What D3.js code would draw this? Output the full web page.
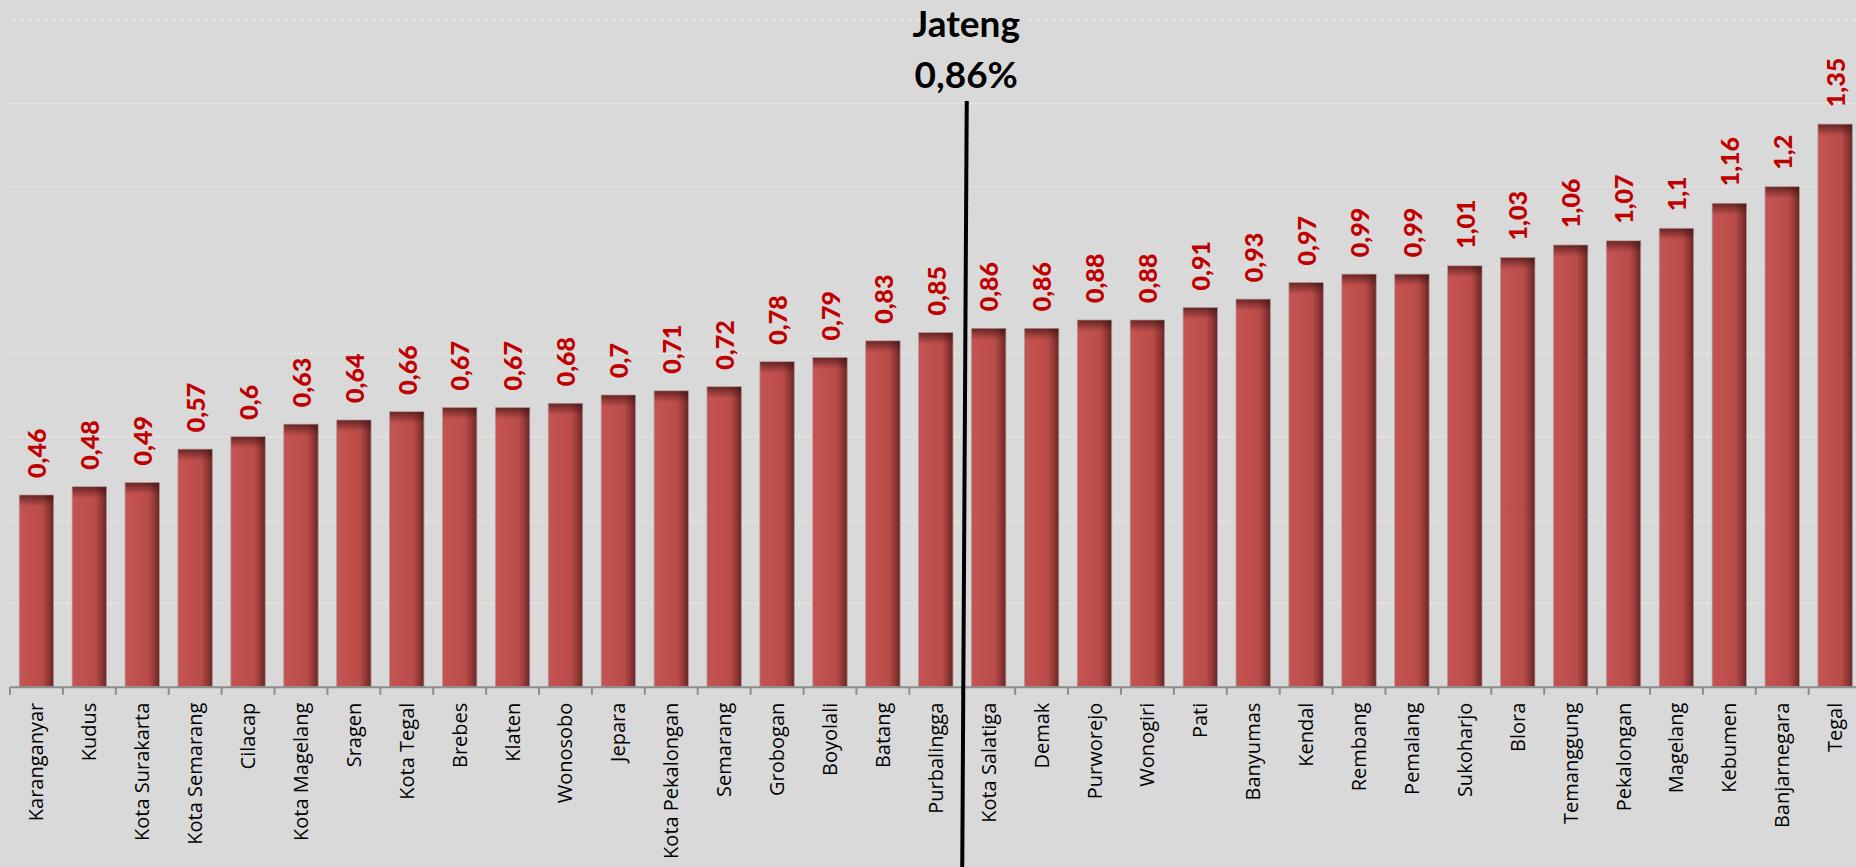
<!DOCTYPE html>
<html>
<head>
    <meta charset="utf-8">
    <title>Jateng 0,86%</title>
    <script src="https://d3js.org/d3.v7.min.js"></script>
    <style>
        body { margin: 0; background: #d9d9d9; overflow: hidden; }
    </style>
</head>
<body>
    <script>

        var regions = ["Karanganyar", "Kudus", "Kota Surakarta", "Kota Semarang", "Cilacap", "Kota Magelang",
            "Sragen", "Kota Tegal", "Brebes", "Klaten", "Wonosobo", "Jepara", "Kota Pekalongan", "Semarang",
            "Grobogan", "Boyolali", "Batang", "Purbalingga", "Kota Salatiga", "Demak", "Purworejo", "Wonogiri",
            "Pati", "Banyumas", "Kendal", "Rembang", "Pemalang", "Sukoharjo", "Blora", "Temanggung",
            "Pekalongan", "Magelang", "Kebumen", "Banjarnegara", "Tegal"];
        var values = [0.46, 0.48, 0.49, 0.57, 0.6, 0.63, 0.64, 0.66, 0.67, 0.67, 0.68, 0.7, 0.71, 0.72,
            0.78, 0.79, 0.83, 0.85, 0.86, 0.86, 0.88, 0.88, 0.91, 0.93, 0.97, 0.99, 0.99, 1.01, 1.03, 1.06,
            1.07, 1.1, 1.16, 1.2, 1.35];
        var gridTicks = [0.2, 0.4, 0.6, 0.8, 1.0, 1.2, 1.4, 1.6];
        var provinceName = "Jateng";
        var provinceValue = 0.86;
        var provinceAfter = "Purbalingga";   // reference line sits after this bar

        var width = 1856, height = 867;
        var data = regions.map(function(r, i) { return { name: r, value: values[i] }; });

        function comma(v) { return String(v).replace(".", ","); }

        var svg = d3.select("body")
            .append("svg")
            .attr("width", width)
            .attr("height", height);

        svg.append("rect")
            .attr("width", width)
            .attr("height", height)
            .attr("fill", "#d9d9d9");

        var xScale = d3.scaleBand()
            .domain(regions)
            .range([10, 1861.6])
            .paddingInner(0.35)
            .paddingOuter(0.175);
        var yScale = d3.scaleLinear()
            .domain([0, 1.6])
            .range([686.7, 20]);

        // gradients for the bevelled bars
        var defs = svg.append("defs");
        var sideGrad = defs.append("linearGradient")
            .attr("id", "barSide")
            .attr("x1", "0").attr("x2", "1").attr("y1", "0").attr("y2", "0");
        sideGrad.append("stop").attr("offset", "0%").attr("stop-color", "#c45351");
        sideGrad.append("stop").attr("offset", "35%").attr("stop-color", "#c0504d");
        sideGrad.append("stop").attr("offset", "68%").attr("stop-color", "#b84b48");
        sideGrad.append("stop").attr("offset", "88%").attr("stop-color", "#8a3533");
        sideGrad.append("stop").attr("offset", "100%").attr("stop-color", "#652624");

        var topGrad = defs.append("linearGradient")
            .attr("id", "barTop")
            .attr("x1", "0").attr("x2", "0").attr("y1", "0").attr("y2", "1");
        topGrad.append("stop").attr("offset", "0%").attr("stop-color", "#3a1010").attr("stop-opacity", 0.65);
        topGrad.append("stop").attr("offset", "100%").attr("stop-color", "#3a1010").attr("stop-opacity", 0);

        // gridlines
        svg.append("g")
            .selectAll("line")
            .data(gridTicks)
            .join("line")
            .attr("x1", 10)
            .attr("x2", width)
            .attr("y1", function(d) { return yScale(d); })
            .attr("y2", function(d) { return yScale(d); })
            .attr("stroke", "#eeeee2")
            .attr("stroke-width", 1.2)
            .attr("stroke-dasharray", "2,2");

        // bars
        var bars = svg.append("g");
        bars.selectAll("rect.bar")
            .data(data)
            .join("rect")
            .attr("class", "bar")
            .attr("x", function(d) { return xScale(d.name); })
            .attr("y", function(d) { return yScale(d.value); })
            .attr("width", xScale.bandwidth())
            .attr("height", function(d) { return yScale(0) - yScale(d.value); })
            .attr("fill", "url(#barSide)")
            .attr("stroke", "#b09a9a")
            .attr("stroke-width", 0.8);

        bars.selectAll("rect.shade")
            .data(data)
            .join("rect")
            .attr("class", "shade")
            .attr("x", function(d) { return xScale(d.name) + 0.4; })
            .attr("y", function(d) { return yScale(d.value) + 0.4; })
            .attr("width", xScale.bandwidth() - 0.8)
            .attr("height", 11)
            .attr("fill", "url(#barTop)");

        // x axis
        var xAxis = d3.axisBottom(xScale).tickSize(0).tickFormat("");
        var axisG = svg.append("g")
            .attr("transform", "translate(0," + yScale(0) + ")")
            .call(xAxis);
        axisG.select(".domain")
            .attr("stroke", "#8c8c8c")
            .attr("stroke-width", 2);

        var step = xScale.step();
        var tickX = regions.map(function(r) { return xScale(r) - xScale.paddingInner() * step / 2; });
        svg.append("g")
            .selectAll("line")
            .data(tickX)
            .join("line")
            .attr("x1", function(d) { return d; })
            .attr("x2", function(d) { return d; })
            .attr("y1", yScale(0))
            .attr("y2", yScale(0) + 8)
            .attr("stroke", "#8c8c8c")
            .attr("stroke-width", 2);

        // category labels
        svg.append("g")
            .selectAll("text")
            .data(data)
            .join("text")
            .attr("transform", function(d) {
                return "translate(" + (xScale(d.name) + xScale.bandwidth() / 2) + "," + (yScale(0) + 16) + ") rotate(-90)";
            })
            .attr("text-anchor", "end")
            .attr("dy", "0.35em")
            .style("font-family", "'Open Sans', sans-serif")
            .style("font-size", "20px")
            .style("fill", "#000")
            .text(function(d) { return d.name; });

        // value labels
        svg.append("g")
            .selectAll("text")
            .data(data)
            .join("text")
            .attr("transform", function(d) {
                return "translate(" + (xScale(d.name) + xScale.bandwidth() / 2 + 1) + "," + (yScale(d.value) - 17) + ") rotate(-90)";
            })
            .attr("text-anchor", "start")
            .attr("dy", "0.35em")
            .style("font-family", "Lato, sans-serif")
            .style("font-weight", "900")
            .style("font-size", "25px")
            .style("fill", "#c00000")
            .text(function(d) { return comma(d.value); });

        // provincial reference line
        var lineX = xScale(provinceAfter) + xScale.bandwidth() + xScale.paddingInner() * step / 2;
        svg.append("line")
            .attr("x1", lineX + 4.5)
            .attr("y1", 101)
            .attr("x2", lineX)
            .attr("y2", height)
            .attr("stroke", "#000")
            .attr("stroke-width", 4);

        svg.append("text")
            .attr("x", lineX + 4)
            .attr("y", 37)
            .attr("text-anchor", "middle")
            .style("font-family", "Lato, sans-serif")
            .style("font-weight", "bold")
            .style("font-size", "37px")
            .text(provinceName);

        svg.append("text")
            .attr("x", lineX + 4)
            .attr("y", 88)
            .attr("text-anchor", "middle")
            .style("font-family", "Lato, sans-serif")
            .style("font-weight", "bold")
            .style("font-size", "37px")
            .text(comma(provinceValue) + "%");

    </script>
</body>
</html>
